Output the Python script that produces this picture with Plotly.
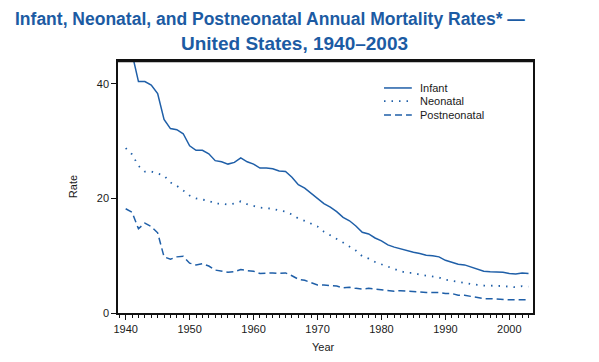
import plotly.graph_objects as go

years = list(range(1940, 2004))

infant = [47.0, 45.3, 40.4, 40.4, 39.8, 38.3, 33.8, 32.2, 32.0, 31.3,
          29.2, 28.4, 28.4, 27.8, 26.6, 26.4, 26.0, 26.3, 27.1, 26.4,
          26.0, 25.3, 25.3, 25.2, 24.8, 24.7, 23.7, 22.4, 21.8, 20.9,
          20.0, 19.1, 18.5, 17.7, 16.7, 16.1, 15.2, 14.1, 13.8, 13.1,
          12.6, 11.9, 11.5, 11.2, 10.8, 10.6, 10.4, 10.1, 10.0, 9.8,
          9.2, 8.9, 8.5, 8.4, 8.0, 7.6, 7.3, 7.2, 7.2, 7.1,
          6.9, 6.8, 7.0, 6.9]

neonatal = [28.8, 27.7, 25.7, 24.7, 24.7, 24.3, 24.0, 22.8, 22.2, 21.4,
            20.5, 20.0, 19.8, 19.6, 19.1, 19.1, 18.9, 19.1, 19.5, 19.0,
            18.7, 18.4, 18.3, 18.2, 17.9, 17.7, 17.2, 16.5, 16.1, 15.6,
            15.1, 14.2, 13.6, 13.0, 12.3, 11.6, 10.9, 9.9, 9.5, 8.9,
            8.5, 8.0, 7.7, 7.3, 7.0, 7.0, 6.7, 6.5, 6.3, 6.2,
            5.8, 5.6, 5.4, 5.3, 5.1, 4.9, 4.8, 4.8, 4.8, 4.7,
            4.6, 4.5, 4.7, 4.6]

postneonatal = [18.2, 17.6, 14.7, 15.7, 15.1, 14.0, 9.8, 9.4, 9.8, 9.9,
                8.7, 8.4, 8.6, 8.2, 7.5, 7.3, 7.1, 7.2, 7.6, 7.4,
                7.3, 6.9, 7.0, 7.0, 6.9, 7.0, 6.5, 5.9, 5.7, 5.3,
                4.9, 4.9, 4.8, 4.7, 4.4, 4.5, 4.3, 4.2, 4.3, 4.2,
                4.1, 3.9, 3.8, 3.9, 3.8, 3.7, 3.6, 3.6, 3.6, 3.6,
                3.4, 3.4, 3.1, 3.1, 2.9, 2.7, 2.5, 2.5, 2.4, 2.3,
                2.3, 2.3, 2.3, 2.3]

series_names = ["Infant", "Neonatal", "Postneonatal"]
x_ticks = [1940, 1950, 1960, 1970, 1980, 1990, 2000]
y_ticks = [0, 20, 40]

blue = "#1f5fa8"
title_font = "Liberation Sans, Arial, sans-serif"
body_font = "Liberation Sans, Arial, sans-serif"
dashes = ["solid", "1.5px,6px", "7px,4px"]
widths = [1.5, 1.8, 1.5]

fig = go.Figure()
for name, vals, d, w in zip(series_names, [infant, neonatal, postneonatal], dashes, widths):
    fig.add_trace(go.Scatter(x=years, y=vals, name=name, mode="lines",
                             line=dict(color=blue, width=w, dash=d),
                             showlegend=False))

# page body has an 8px default margin; margins compensate for it
fig.update_layout(
    width=599, height=362,
    margin=dict(l=110, r=74, t=53, b=57, autoexpand=False),
    paper_bgcolor="white", plot_bgcolor="white",
    font=dict(family=body_font, size=11, color="#1a1a1a"),
)

fig.update_xaxes(range=[1938.8, 2003.7], tickvals=x_ticks, ticks="outside", ticklen=5,
                 tickwidth=1, tickcolor="#111", showgrid=False, zeroline=False,
                 showline=True, linecolor="#111", linewidth=1.5, mirror=True,
                 minor=dict(dtick=1, ticks="outside", ticklen=3, tickcolor="#111", tickwidth=1),
                 automargin=False, tickfont=dict(size=11))
fig.update_yaxes(range=[0, 44], tickvals=y_ticks, ticks="outside", ticklen=5,
                 tickwidth=1, tickcolor="#111", showgrid=False, zeroline=False,
                 showline=True, linecolor="#111", linewidth=1.5, mirror=True,
                 automargin=False, tickfont=dict(size=11))

# thicker top frame line
fig.add_shape(type="line", xref="paper", yref="paper", x0=0, x1=1, y0=1, y1=1,
              line=dict(color="#111", width=2.5))

# title (two lines)
fig.add_annotation(text="<b>Infant, Neonatal, and Postneonatal Annual Mortality Rates* —</b>",
                   xref="paper", yref="paper", x=0.367, y=1.166, xanchor="center", yanchor="middle",
                   showarrow=False, borderpad=0,
                   font=dict(family=title_font, size=17.5, color="#1c5ba3"))
fig.add_annotation(text="<b>United States, 1940–2003</b>",
                   xref="paper", yref="paper", x=0.426, y=1.071, xanchor="center", yanchor="middle",
                   showarrow=False, borderpad=0,
                   font=dict(family=title_font, size=19, color="#1c5ba3"))

# axis titles
fig.add_annotation(text="Rate", xref="paper", yref="paper", x=-0.108, y=0.5, textangle=-90,
                   xanchor="center", yanchor="middle", showarrow=False, font=dict(size=11))
fig.add_annotation(text="Year", xref="paper", yref="paper", x=0.494, y=-0.135,
                   xanchor="center", yanchor="middle", showarrow=False, font=dict(size=11))

# manual legend
leg_y = [0.893, 0.841, 0.786]
for name, d, w, yy in zip(series_names, dashes, widths, leg_y):
    fig.add_shape(type="line", xref="paper", yref="paper", x0=0.641, x1=0.708, y0=yy, y1=yy,
                  line=dict(color=blue, width=w, dash=d))
    fig.add_annotation(text=name, xref="paper", yref="paper", x=0.722, y=yy,
                       xanchor="left", yanchor="middle", showarrow=False,
                       font=dict(size=11, color="#1a1a1a"))

fig.write_html("out.html")
